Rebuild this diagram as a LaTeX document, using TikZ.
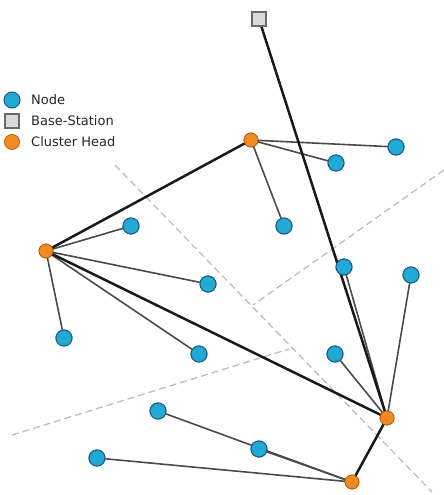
\documentclass[tikz,border=0pt]{standalone}
\usepackage{fontspec}
\setmainfont{DejaVu Sans}
\definecolor{nodeblue}{HTML}{22A9D6}
\definecolor{nodeblueline}{HTML}{1B5F86}
\definecolor{headorange}{HTML}{F28A22}
\definecolor{headline}{HTML}{B8600F}
\definecolor{bsgray}{HTML}{DADADA}
\definecolor{bsline}{HTML}{6A6A6A}
\definecolor{linkgray}{HTML}{4A4A4A}
\definecolor{bordergray}{HTML}{BDBDBD}
\tikzset{
  sensor/.style={circle, draw=nodeblueline, line width=1pt, fill=nodeblue, minimum size=16pt, inner sep=0pt},
  head/.style={circle, draw=headline, line width=0.8pt, fill=headorange, minimum size=14pt, inner sep=0pt},
  station/.style={rectangle, draw=bsline, line width=1.2pt, fill=bsgray, minimum size=14pt, inner sep=0pt},
  link/.style={draw=linkgray, line width=1.6pt},
  backbone/.style={draw=black!90, line width=2.5pt},
  border/.style={draw=bordergray, line width=1.3pt, dash pattern=on 7pt off 4pt},
  legendtext/.style={anchor=west, inner sep=0pt, font=\fontsize{13}{15}\selectfont, text=black!85}
}
\begin{document}
\begin{tikzpicture}[x=1pt,y=-1pt]
\useasboundingbox (0,0) rectangle (444,495);

% cluster borders
\coordinate (b1s) at (115,165);
\coordinate (b1e) at (432,492);
\coordinate (b2s) at (444,170);
\coordinate (b2e) at (253,305);
\coordinate (b3s) at (12,435);
\coordinate (b3e) at (289,349);
\draw[border] (b1s) -- (b1e);
\draw[border] (b2s) -- (b2e);
\draw[border] (b3s) -- (b3e);

% base station and cluster heads
\node[station] (bs) at (259,19) {};
\node[head] (ch1) at (251,140) {};
\node[head] (ch2) at (46,251) {};
\node[head] (ch3) at (387,418) {};
\node[head] (ch4) at (352,482) {};

% sensor nodes
\node[sensor] (n1) at (336,163) {};
\node[sensor] (n2) at (396,147) {};
\node[sensor] (n3) at (284,226) {};
\node[sensor] (n4) at (131,226) {};
\node[sensor] (n5) at (208,284) {};
\node[sensor] (n6) at (344,267) {};
\node[sensor] (n7) at (411,275) {};
\node[sensor] (n8) at (64,338) {};
\node[sensor] (n9) at (199,354) {};
\node[sensor] (n10) at (335,354) {};
\node[sensor] (n11) at (158,411) {};
\node[sensor] (n12) at (259,449) {};
\node[sensor] (n13) at (97,458) {};

% member links
\draw[link] (ch1.center) -- (n1);
\draw[link] (ch1.center) -- (n2);
\draw[link] (ch1.center) -- (n3);
\draw[link] (ch2.center) -- (n4);
\draw[link] (ch2.center) -- (n5);
\draw[link] (ch2.center) -- (n8);
\draw[link] (ch2.center) -- (n9);
\draw[link] (ch3.center) -- (n6);
\draw[link] (ch3.center) -- (n7);
\draw[link] (ch3.center) -- (n10);
\draw[link] (ch4.center) -- (n11);
\draw[link] (ch4.center) -- (n12);
\draw[link] (ch4.center) -- (n13);

% backbone to the base station
\draw[backbone] (bs) -- (ch3.center);
\draw[backbone] (ch1.center) -- (ch2.center);
\draw[backbone] (ch2.center) -- (ch3.center);
\draw[backbone] (ch3.center) -- (ch4.center);

% redraw node symbols on top of the links
\foreach \n in {n1,n2,n3,n4,n5,n6,n7,n8,n9,n10,n11,n12,n13}
  \node[sensor] at (\n) {};
\foreach \n in {ch1,ch2,ch3,ch4}
  \node[head] at (\n) {};
\node[station] at (bs) {};

% legend
\node[sensor] (lg1) at (12,100) {};
\node[station] (lg2) at (12,121) {};
\node[head, minimum size=15pt] (lg3) at (12,142) {};
\node[legendtext] (lt1) at (31,100) {Node};
\node[legendtext] (lt2) at (31,121) {Base-Station};
\node[legendtext] (lt3) at (31,142) {Cluster Head};
\end{tikzpicture}
\end{document}
